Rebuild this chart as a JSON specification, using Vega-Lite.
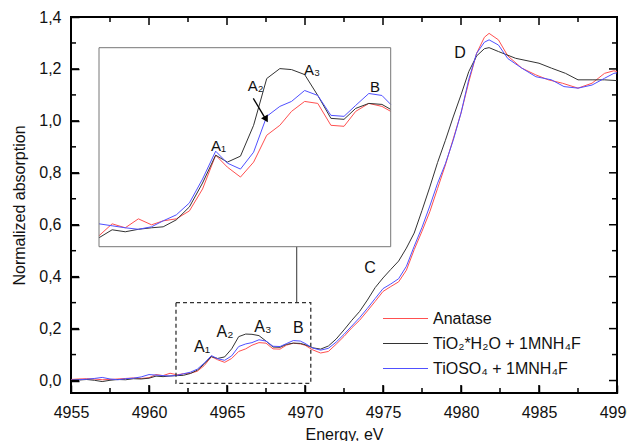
{
  "$schema": "https://vega.github.io/schema/vega-lite/v6.json",
  "width": 546,
  "height": 376,
  "autosize": {"type": "none"},
  "padding": {"left": 71, "top": 17, "right": 10, "bottom": 48},
  "background": "white",
  "config": {
    "font": "Liberation Sans",
    "view": {"stroke": "#000", "strokeWidth": 2},
    "axis": {"domain": false, "grid": false, "ticks": true, "tickColor": "#000", "tickOpacity": 1, "tickWidth": 1.5, "labelFont": "Liberation Sans", "labelFontSize": 16, "labelColor": "#111", "titleFont": "Liberation Sans", "titleFontSize": 16, "titleFontWeight": "normal", "titleColor": "#111"},
    "text": {"font": "Liberation Sans"}
  },
  "datasets": {
    "spectra": [
      {"E": 4955, "mu": 0.004, "sample": "Anatase"},
      {"E": 4955.5, "mu": 0.006, "sample": "Anatase"},
      {"E": 4956, "mu": 0.007, "sample": "Anatase"},
      {"E": 4956.5, "mu": 0.006, "sample": "Anatase"},
      {"E": 4957, "mu": 0.003, "sample": "Anatase"},
      {"E": 4957.5, "mu": 0.004, "sample": "Anatase"},
      {"E": 4958, "mu": 0.006, "sample": "Anatase"},
      {"E": 4958.5, "mu": 0.008, "sample": "Anatase"},
      {"E": 4959, "mu": 0.010, "sample": "Anatase"},
      {"E": 4959.5, "mu": 0.008, "sample": "Anatase"},
      {"E": 4960.0, "mu": 0.011, "sample": "Anatase"},
      {"E": 4960.45, "mu": 0.023, "sample": "Anatase"},
      {"E": 4960.9, "mu": 0.019, "sample": "Anatase"},
      {"E": 4961.35, "mu": 0.028, "sample": "Anatase"},
      {"E": 4961.8, "mu": 0.022, "sample": "Anatase"},
      {"E": 4962.2, "mu": 0.026, "sample": "Anatase"},
      {"E": 4962.65, "mu": 0.028, "sample": "Anatase"},
      {"E": 4963.1, "mu": 0.036, "sample": "Anatase"},
      {"E": 4963.55, "mu": 0.058, "sample": "Anatase"},
      {"E": 4964.0, "mu": 0.092, "sample": "Anatase"},
      {"E": 4964.4, "mu": 0.080, "sample": "Anatase"},
      {"E": 4964.85, "mu": 0.070, "sample": "Anatase"},
      {"E": 4965.3, "mu": 0.085, "sample": "Anatase"},
      {"E": 4965.75, "mu": 0.112, "sample": "Anatase"},
      {"E": 4966.2, "mu": 0.122, "sample": "Anatase"},
      {"E": 4966.6, "mu": 0.136, "sample": "Anatase"},
      {"E": 4967.05, "mu": 0.146, "sample": "Anatase"},
      {"E": 4967.5, "mu": 0.144, "sample": "Anatase"},
      {"E": 4967.95, "mu": 0.122, "sample": "Anatase"},
      {"E": 4968.4, "mu": 0.121, "sample": "Anatase"},
      {"E": 4968.8, "mu": 0.136, "sample": "Anatase"},
      {"E": 4969.25, "mu": 0.144, "sample": "Anatase"},
      {"E": 4969.7, "mu": 0.141, "sample": "Anatase"},
      {"E": 4970.0, "mu": 0.136, "sample": "Anatase"},
      {"E": 4970.5, "mu": 0.118, "sample": "Anatase"},
      {"E": 4971.0, "mu": 0.106, "sample": "Anatase"},
      {"E": 4971.5, "mu": 0.112, "sample": "Anatase"},
      {"E": 4972, "mu": 0.140, "sample": "Anatase"},
      {"E": 4972.5, "mu": 0.170, "sample": "Anatase"},
      {"E": 4973, "mu": 0.203, "sample": "Anatase"},
      {"E": 4973.5, "mu": 0.232, "sample": "Anatase"},
      {"E": 4974, "mu": 0.268, "sample": "Anatase"},
      {"E": 4974.5, "mu": 0.305, "sample": "Anatase"},
      {"E": 4975, "mu": 0.343, "sample": "Anatase"},
      {"E": 4975.5, "mu": 0.362, "sample": "Anatase"},
      {"E": 4976, "mu": 0.380, "sample": "Anatase"},
      {"E": 4976.5, "mu": 0.425, "sample": "Anatase"},
      {"E": 4977, "mu": 0.504, "sample": "Anatase"},
      {"E": 4977.5, "mu": 0.575, "sample": "Anatase"},
      {"E": 4978, "mu": 0.650, "sample": "Anatase"},
      {"E": 4978.5, "mu": 0.740, "sample": "Anatase"},
      {"E": 4979, "mu": 0.830, "sample": "Anatase"},
      {"E": 4979.5, "mu": 0.930, "sample": "Anatase"},
      {"E": 4980, "mu": 1.030, "sample": "Anatase"},
      {"E": 4980.5, "mu": 1.150, "sample": "Anatase"},
      {"E": 4981, "mu": 1.260, "sample": "Anatase"},
      {"E": 4981.5, "mu": 1.322, "sample": "Anatase"},
      {"E": 4981.8, "mu": 1.337, "sample": "Anatase"},
      {"E": 4982.4, "mu": 1.312, "sample": "Anatase"},
      {"E": 4983, "mu": 1.250, "sample": "Anatase"},
      {"E": 4983.9, "mu": 1.203, "sample": "Anatase"},
      {"E": 4984.8, "mu": 1.177, "sample": "Anatase"},
      {"E": 4985.6, "mu": 1.158, "sample": "Anatase"},
      {"E": 4986.5, "mu": 1.145, "sample": "Anatase"},
      {"E": 4987.5, "mu": 1.126, "sample": "Anatase"},
      {"E": 4988.4, "mu": 1.145, "sample": "Anatase"},
      {"E": 4989.2, "mu": 1.183, "sample": "Anatase"},
      {"E": 4989.8, "mu": 1.193, "sample": "Anatase"},
      {"E": 4990, "mu": 1.190, "sample": "Anatase"},

      {"E": 4955, "mu": 0.000, "sample": "TiO₂*H₂O + 1MNH₄F"},
      {"E": 4955.5, "mu": 0.002, "sample": "TiO₂*H₂O + 1MNH₄F"},
      {"E": 4956, "mu": 0.004, "sample": "TiO₂*H₂O + 1MNH₄F"},
      {"E": 4956.5, "mu": 0.001, "sample": "TiO₂*H₂O + 1MNH₄F"},
      {"E": 4957, "mu": -0.004, "sample": "TiO₂*H₂O + 1MNH₄F"},
      {"E": 4957.5, "mu": 0.001, "sample": "TiO₂*H₂O + 1MNH₄F"},
      {"E": 4958, "mu": 0.004, "sample": "TiO₂*H₂O + 1MNH₄F"},
      {"E": 4958.5, "mu": 0.003, "sample": "TiO₂*H₂O + 1MNH₄F"},
      {"E": 4959, "mu": 0.007, "sample": "TiO₂*H₂O + 1MNH₄F"},
      {"E": 4959.5, "mu": 0.006, "sample": "TiO₂*H₂O + 1MNH₄F"},
      {"E": 4960.0, "mu": 0.009, "sample": "TiO₂*H₂O + 1MNH₄F"},
      {"E": 4960.45, "mu": 0.017, "sample": "TiO₂*H₂O + 1MNH₄F"},
      {"E": 4960.9, "mu": 0.015, "sample": "TiO₂*H₂O + 1MNH₄F"},
      {"E": 4961.35, "mu": 0.0175, "sample": "TiO₂*H₂O + 1MNH₄F"},
      {"E": 4961.8, "mu": 0.019, "sample": "TiO₂*H₂O + 1MNH₄F"},
      {"E": 4962.2, "mu": 0.020, "sample": "TiO₂*H₂O + 1MNH₄F"},
      {"E": 4962.65, "mu": 0.027, "sample": "TiO₂*H₂O + 1MNH₄F"},
      {"E": 4963.1, "mu": 0.040, "sample": "TiO₂*H₂O + 1MNH₄F"},
      {"E": 4963.55, "mu": 0.064, "sample": "TiO₂*H₂O + 1MNH₄F"},
      {"E": 4964.0, "mu": 0.092, "sample": "TiO₂*H₂O + 1MNH₄F"},
      {"E": 4964.4, "mu": 0.085, "sample": "TiO₂*H₂O + 1MNH₄F"},
      {"E": 4964.85, "mu": 0.091, "sample": "TiO₂*H₂O + 1MNH₄F"},
      {"E": 4965.3, "mu": 0.122, "sample": "TiO₂*H₂O + 1MNH₄F"},
      {"E": 4965.75, "mu": 0.169, "sample": "TiO₂*H₂O + 1MNH₄F"},
      {"E": 4966.2, "mu": 0.179, "sample": "TiO₂*H₂O + 1MNH₄F"},
      {"E": 4966.6, "mu": 0.178, "sample": "TiO₂*H₂O + 1MNH₄F"},
      {"E": 4967.05, "mu": 0.173, "sample": "TiO₂*H₂O + 1MNH₄F"},
      {"E": 4967.5, "mu": 0.152, "sample": "TiO₂*H₂O + 1MNH₄F"},
      {"E": 4967.95, "mu": 0.129, "sample": "TiO₂*H₂O + 1MNH₄F"},
      {"E": 4968.4, "mu": 0.128, "sample": "TiO₂*H₂O + 1MNH₄F"},
      {"E": 4968.8, "mu": 0.139, "sample": "TiO₂*H₂O + 1MNH₄F"},
      {"E": 4969.25, "mu": 0.144, "sample": "TiO₂*H₂O + 1MNH₄F"},
      {"E": 4969.7, "mu": 0.143, "sample": "TiO₂*H₂O + 1MNH₄F"},
      {"E": 4970.0, "mu": 0.138, "sample": "TiO₂*H₂O + 1MNH₄F"},
      {"E": 4970.5, "mu": 0.126, "sample": "TiO₂*H₂O + 1MNH₄F"},
      {"E": 4971.0, "mu": 0.121, "sample": "TiO₂*H₂O + 1MNH₄F"},
      {"E": 4971.5, "mu": 0.133, "sample": "TiO₂*H₂O + 1MNH₄F"},
      {"E": 4972, "mu": 0.160, "sample": "TiO₂*H₂O + 1MNH₄F"},
      {"E": 4972.5, "mu": 0.195, "sample": "TiO₂*H₂O + 1MNH₄F"},
      {"E": 4973, "mu": 0.232, "sample": "TiO₂*H₂O + 1MNH₄F"},
      {"E": 4973.5, "mu": 0.266, "sample": "TiO₂*H₂O + 1MNH₄F"},
      {"E": 4974, "mu": 0.310, "sample": "TiO₂*H₂O + 1MNH₄F"},
      {"E": 4974.5, "mu": 0.358, "sample": "TiO₂*H₂O + 1MNH₄F"},
      {"E": 4975, "mu": 0.395, "sample": "TiO₂*H₂O + 1MNH₄F"},
      {"E": 4975.5, "mu": 0.428, "sample": "TiO₂*H₂O + 1MNH₄F"},
      {"E": 4976, "mu": 0.460, "sample": "TiO₂*H₂O + 1MNH₄F"},
      {"E": 4976.5, "mu": 0.510, "sample": "TiO₂*H₂O + 1MNH₄F"},
      {"E": 4977, "mu": 0.568, "sample": "TiO₂*H₂O + 1MNH₄F"},
      {"E": 4977.5, "mu": 0.655, "sample": "TiO₂*H₂O + 1MNH₄F"},
      {"E": 4978, "mu": 0.745, "sample": "TiO₂*H₂O + 1MNH₄F"},
      {"E": 4978.5, "mu": 0.840, "sample": "TiO₂*H₂O + 1MNH₄F"},
      {"E": 4979, "mu": 0.925, "sample": "TiO₂*H₂O + 1MNH₄F"},
      {"E": 4979.5, "mu": 1.015, "sample": "TiO₂*H₂O + 1MNH₄F"},
      {"E": 4980, "mu": 1.100, "sample": "TiO₂*H₂O + 1MNH₄F"},
      {"E": 4980.5, "mu": 1.190, "sample": "TiO₂*H₂O + 1MNH₄F"},
      {"E": 4981, "mu": 1.250, "sample": "TiO₂*H₂O + 1MNH₄F"},
      {"E": 4981.5, "mu": 1.278, "sample": "TiO₂*H₂O + 1MNH₄F"},
      {"E": 4981.8, "mu": 1.282, "sample": "TiO₂*H₂O + 1MNH₄F"},
      {"E": 4982.4, "mu": 1.267, "sample": "TiO₂*H₂O + 1MNH₄F"},
      {"E": 4983.5, "mu": 1.241, "sample": "TiO₂*H₂O + 1MNH₄F"},
      {"E": 4985, "mu": 1.222, "sample": "TiO₂*H₂O + 1MNH₄F"},
      {"E": 4985.8, "mu": 1.203, "sample": "TiO₂*H₂O + 1MNH₄F"},
      {"E": 4986.7, "mu": 1.183, "sample": "TiO₂*H₂O + 1MNH₄F"},
      {"E": 4987.5, "mu": 1.158, "sample": "TiO₂*H₂O + 1MNH₄F"},
      {"E": 4988.4, "mu": 1.158, "sample": "TiO₂*H₂O + 1MNH₄F"},
      {"E": 4989.2, "mu": 1.158, "sample": "TiO₂*H₂O + 1MNH₄F"},
      {"E": 4990, "mu": 1.155, "sample": "TiO₂*H₂O + 1MNH₄F"},

      {"E": 4955, "mu": 0.002, "sample": "TiOSO₄ + 1MNH₄F"},
      {"E": 4955.5, "mu": 0.003, "sample": "TiOSO₄ + 1MNH₄F"},
      {"E": 4956, "mu": 0.005, "sample": "TiOSO₄ + 1MNH₄F"},
      {"E": 4956.5, "mu": 0.008, "sample": "TiOSO₄ + 1MNH₄F"},
      {"E": 4957, "mu": 0.012, "sample": "TiOSO₄ + 1MNH₄F"},
      {"E": 4957.5, "mu": 0.006, "sample": "TiOSO₄ + 1MNH₄F"},
      {"E": 4958, "mu": 0.003, "sample": "TiOSO₄ + 1MNH₄F"},
      {"E": 4958.5, "mu": 0.007, "sample": "TiOSO₄ + 1MNH₄F"},
      {"E": 4959, "mu": 0.009, "sample": "TiOSO₄ + 1MNH₄F"},
      {"E": 4959.5, "mu": 0.014, "sample": "TiOSO₄ + 1MNH₄F"},
      {"E": 4960.0, "mu": 0.023, "sample": "TiOSO₄ + 1MNH₄F"},
      {"E": 4960.45, "mu": 0.021, "sample": "TiOSO₄ + 1MNH₄F"},
      {"E": 4960.9, "mu": 0.019, "sample": "TiOSO₄ + 1MNH₄F"},
      {"E": 4961.35, "mu": 0.0175, "sample": "TiOSO₄ + 1MNH₄F"},
      {"E": 4961.8, "mu": 0.020, "sample": "TiOSO₄ + 1MNH₄F"},
      {"E": 4962.2, "mu": 0.026, "sample": "TiOSO₄ + 1MNH₄F"},
      {"E": 4962.65, "mu": 0.032, "sample": "TiOSO₄ + 1MNH₄F"},
      {"E": 4963.1, "mu": 0.044, "sample": "TiOSO₄ + 1MNH₄F"},
      {"E": 4963.55, "mu": 0.068, "sample": "TiOSO₄ + 1MNH₄F"},
      {"E": 4964.0, "mu": 0.096, "sample": "TiOSO₄ + 1MNH₄F"},
      {"E": 4964.4, "mu": 0.084, "sample": "TiOSO₄ + 1MNH₄F"},
      {"E": 4964.85, "mu": 0.078, "sample": "TiOSO₄ + 1MNH₄F"},
      {"E": 4965.3, "mu": 0.095, "sample": "TiOSO₄ + 1MNH₄F"},
      {"E": 4965.75, "mu": 0.131, "sample": "TiOSO₄ + 1MNH₄F"},
      {"E": 4966.2, "mu": 0.141, "sample": "TiOSO₄ + 1MNH₄F"},
      {"E": 4966.6, "mu": 0.146, "sample": "TiOSO₄ + 1MNH₄F"},
      {"E": 4967.05, "mu": 0.157, "sample": "TiOSO₄ + 1MNH₄F"},
      {"E": 4967.5, "mu": 0.152, "sample": "TiOSO₄ + 1MNH₄F"},
      {"E": 4967.95, "mu": 0.132, "sample": "TiOSO₄ + 1MNH₄F"},
      {"E": 4968.4, "mu": 0.131, "sample": "TiOSO₄ + 1MNH₄F"},
      {"E": 4968.8, "mu": 0.142, "sample": "TiOSO₄ + 1MNH₄F"},
      {"E": 4969.25, "mu": 0.154, "sample": "TiOSO₄ + 1MNH₄F"},
      {"E": 4969.7, "mu": 0.152, "sample": "TiOSO₄ + 1MNH₄F"},
      {"E": 4970.0, "mu": 0.143, "sample": "TiOSO₄ + 1MNH₄F"},
      {"E": 4970.5, "mu": 0.125, "sample": "TiOSO₄ + 1MNH₄F"},
      {"E": 4971.0, "mu": 0.117, "sample": "TiOSO₄ + 1MNH₄F"},
      {"E": 4971.5, "mu": 0.124, "sample": "TiOSO₄ + 1MNH₄F"},
      {"E": 4972, "mu": 0.148, "sample": "TiOSO₄ + 1MNH₄F"},
      {"E": 4972.5, "mu": 0.178, "sample": "TiOSO₄ + 1MNH₄F"},
      {"E": 4973, "mu": 0.210, "sample": "TiOSO₄ + 1MNH₄F"},
      {"E": 4973.5, "mu": 0.242, "sample": "TiOSO₄ + 1MNH₄F"},
      {"E": 4974, "mu": 0.278, "sample": "TiOSO₄ + 1MNH₄F"},
      {"E": 4974.5, "mu": 0.316, "sample": "TiOSO₄ + 1MNH₄F"},
      {"E": 4975, "mu": 0.354, "sample": "TiOSO₄ + 1MNH₄F"},
      {"E": 4975.5, "mu": 0.372, "sample": "TiOSO₄ + 1MNH₄F"},
      {"E": 4976, "mu": 0.392, "sample": "TiOSO₄ + 1MNH₄F"},
      {"E": 4976.5, "mu": 0.440, "sample": "TiOSO₄ + 1MNH₄F"},
      {"E": 4977, "mu": 0.517, "sample": "TiOSO₄ + 1MNH₄F"},
      {"E": 4977.5, "mu": 0.590, "sample": "TiOSO₄ + 1MNH₄F"},
      {"E": 4978, "mu": 0.672, "sample": "TiOSO₄ + 1MNH₄F"},
      {"E": 4978.5, "mu": 0.760, "sample": "TiOSO₄ + 1MNH₄F"},
      {"E": 4979, "mu": 0.835, "sample": "TiOSO₄ + 1MNH₄F"},
      {"E": 4979.5, "mu": 0.925, "sample": "TiOSO₄ + 1MNH₄F"},
      {"E": 4980, "mu": 1.030, "sample": "TiOSO₄ + 1MNH₄F"},
      {"E": 4980.5, "mu": 1.160, "sample": "TiOSO₄ + 1MNH₄F"},
      {"E": 4981, "mu": 1.260, "sample": "TiOSO₄ + 1MNH₄F"},
      {"E": 4981.5, "mu": 1.303, "sample": "TiOSO₄ + 1MNH₄F"},
      {"E": 4981.8, "mu": 1.312, "sample": "TiOSO₄ + 1MNH₄F"},
      {"E": 4982.4, "mu": 1.292, "sample": "TiOSO₄ + 1MNH₄F"},
      {"E": 4983, "mu": 1.240, "sample": "TiOSO₄ + 1MNH₄F"},
      {"E": 4983.9, "mu": 1.203, "sample": "TiOSO₄ + 1MNH₄F"},
      {"E": 4984.8, "mu": 1.170, "sample": "TiOSO₄ + 1MNH₄F"},
      {"E": 4985.8, "mu": 1.158, "sample": "TiOSO₄ + 1MNH₄F"},
      {"E": 4986.6, "mu": 1.132, "sample": "TiOSO₄ + 1MNH₄F"},
      {"E": 4987.5, "mu": 1.126, "sample": "TiOSO₄ + 1MNH₄F"},
      {"E": 4988.4, "mu": 1.138, "sample": "TiOSO₄ + 1MNH₄F"},
      {"E": 4989.2, "mu": 1.164, "sample": "TiOSO₄ + 1MNH₄F"},
      {"E": 4989.8, "mu": 1.183, "sample": "TiOSO₄ + 1MNH₄F"},
      {"E": 4990, "mu": 1.185, "sample": "TiOSO₄ + 1MNH₄F"}
    ],
    "mainLabels": [
      {"label": "A₁", "x": 4963.4, "y": 0.13},
      {"label": "A₂", "x": 4964.87, "y": 0.188},
      {"label": "A₃", "x": 4967.3, "y": 0.207},
      {"label": "B", "x": 4969.57, "y": 0.203},
      {"label": "C", "x": 4974.17, "y": 0.432},
      {"label": "D", "x": 4979.94, "y": 1.26}
    ],
    "insetLabels": [
      {"label": "A₁", "x": 4964.1, "y": 0.1015},
      {"label": "A₂", "x": 4965.37, "y": 0.1615},
      {"label": "A₃", "x": 4967.3, "y": 0.1776},
      {"label": "B", "x": 4969.46, "y": 0.161}
    ],
    "xTicks": [
      {"E": 4955, "kind": "major"}, {"E": 4957.5, "kind": "minor"},
      {"E": 4960, "kind": "major"}, {"E": 4962.5, "kind": "minor"},
      {"E": 4965, "kind": "major"}, {"E": 4967.5, "kind": "minor"},
      {"E": 4970, "kind": "major"}, {"E": 4972.5, "kind": "minor"},
      {"E": 4975, "kind": "major"}, {"E": 4977.5, "kind": "minor"},
      {"E": 4980, "kind": "major"}, {"E": 4982.5, "kind": "minor"},
      {"E": 4985, "kind": "major"}, {"E": 4987.5, "kind": "minor"},
      {"E": 4990, "kind": "major"}
    ],
    "yTicks": [
      {"mu": 0.0, "kind": "major"}, {"mu": 0.1, "kind": "minor"},
      {"mu": 0.2, "kind": "major"}, {"mu": 0.3, "kind": "minor"},
      {"mu": 0.4, "kind": "major"}, {"mu": 0.5, "kind": "minor"},
      {"mu": 0.6, "kind": "major"}, {"mu": 0.7, "kind": "minor"},
      {"mu": 0.8, "kind": "major"}, {"mu": 0.9, "kind": "minor"},
      {"mu": 1.0, "kind": "major"}, {"mu": 1.1, "kind": "minor"},
      {"mu": 1.2, "kind": "major"}, {"mu": 1.3, "kind": "minor"},
      {"mu": 1.4, "kind": "major"}
    ]
  },
  "layer": [
    {
      "layer": [
        {
          "data": {"name": "spectra"},
          "mark": {"type": "line", "strokeWidth": 1},
          "encoding": {
            "x": {
              "field": "E", "type": "quantitative",
              "scale": {"domain": [4955, 4990], "nice": false, "zero": false},
              "axis": {
                "orient": "bottom",
                "values": [4955, 4960, 4965, 4970, 4975, 4980, 4985, 4990],
                "format": "d",
                "ticks": true, "tickColor": "#000", "tickOpacity": 1, "tickWidth": 1.5, "grid": false, "domain": false,
                "tickSize": 8,
                "offset": -8,
                "labelPadding": 11,
                "labelFlush": false,
                "title": "Energy, eV",
                "titlePadding": 6
              }
            },
            "y": {
              "field": "mu", "type": "quantitative",
              "scale": {"domain": [-0.048, 1.4], "nice": false, "zero": false},
              "axis": {
                "orient": "left",
                "values": [0, 0.2, 0.4, 0.6, 0.8, 1.0, 1.2, 1.4],
                "labelExpr": "replace(format(datum.value, '.1f'), '.', ',')",
                "ticks": true, "tickColor": "#000", "tickOpacity": 1, "tickWidth": 1.5, "grid": false, "domain": false,
                "tickSize": 8,
                "offset": -8,
                "labelPadding": 10,
                "labelFlush": false,
                "title": "Normalized absorption",
                "titlePadding": 11
              }
            },
            "color": {
              "field": "sample", "type": "nominal",
              "scale": {
                "domain": ["Anatase", "TiO₂*H₂O + 1MNH₄F", "TiOSO₄ + 1MNH₄F"],
                "range": ["#ff5050", "#333333", "#5050ff"]
              },
              "legend": {
                "orient": "none",
                "legendX": 319,
                "legendY": 286,
                "title": null,
                "symbolType": "M-1.5,0H1.5",
                "symbolSize": 900,
                "symbolStrokeWidth": 1,
                "labelFontSize": 16,
                "labelFont": "Liberation Sans",
                "labelColor": "#111",
                "labelOffset": 12,
                "rowPadding": 1,
                "labelLimit": 300,
                "encode": {
                  "symbols": {
                    "update": {
                      "stroke": {"scale": "color", "field": "value"},
                      "fill": {"value": "transparent"},
                      "strokeWidth": {"value": 1},
                      "opacity": {"value": 1}
                    }
                  }
                }
              }
            },
            "order": {"field": "sample"}
          }
        },
        {
          "data": {"name": "mainLabels"},
          "mark": {"type": "text", "fontSize": 16, "color": "#111"},
          "encoding": {
            "x": {"field": "x", "type": "quantitative", "axis": null},
            "y": {"field": "y", "type": "quantitative", "axis": null},
            "text": {"field": "label"}
          }
        },
        {
          "data": {"name": "xTicks"},
          "transform": [{"filter": "datum.kind === 'major'"}],
          "mark": {"type": "tick", "orient": "vertical", "size": 8, "thickness": 1.5, "color": "#000", "opacity": 1, "yOffset": -4},
          "encoding": {
            "x": {"field": "E", "type": "quantitative", "axis": null},
            "y": {"datum": -0.048, "type": "quantitative", "axis": null}
          }
        },
        {
          "data": {"name": "xTicks"},
          "transform": [{"filter": "datum.kind === 'major'"}],
          "mark": {"type": "tick", "orient": "vertical", "size": 8, "thickness": 1.5, "color": "#000", "opacity": 1, "yOffset": 4},
          "encoding": {
            "x": {"field": "E", "type": "quantitative", "axis": null},
            "y": {"datum": 1.4, "type": "quantitative", "axis": null}
          }
        },
        {
          "data": {"name": "xTicks"},
          "transform": [{"filter": "datum.kind === 'minor'"}],
          "mark": {"type": "tick", "orient": "vertical", "size": 5, "thickness": 1.5, "color": "#000", "opacity": 1, "yOffset": -2.5},
          "encoding": {
            "x": {"field": "E", "type": "quantitative", "axis": null},
            "y": {"datum": -0.048, "type": "quantitative", "axis": null}
          }
        },
        {
          "data": {"name": "xTicks"},
          "transform": [{"filter": "datum.kind === 'minor'"}],
          "mark": {"type": "tick", "orient": "vertical", "size": 5, "thickness": 1.5, "color": "#000", "opacity": 1, "yOffset": 2.5},
          "encoding": {
            "x": {"field": "E", "type": "quantitative", "axis": null},
            "y": {"datum": 1.4, "type": "quantitative", "axis": null}
          }
        },
        {
          "data": {"name": "yTicks"},
          "transform": [{"filter": "datum.kind === 'major'"}],
          "mark": {"type": "tick", "orient": "horizontal", "size": 8, "thickness": 1.5, "color": "#000", "opacity": 1, "xOffset": 4},
          "encoding": {
            "x": {"datum": 4955, "type": "quantitative", "axis": null},
            "y": {"field": "mu", "type": "quantitative", "axis": null}
          }
        },
        {
          "data": {"name": "yTicks"},
          "transform": [{"filter": "datum.kind === 'major'"}],
          "mark": {"type": "tick", "orient": "horizontal", "size": 8, "thickness": 1.5, "color": "#000", "opacity": 1, "xOffset": -4},
          "encoding": {
            "x": {"datum": 4990, "type": "quantitative", "axis": null},
            "y": {"field": "mu", "type": "quantitative", "axis": null}
          }
        },
        {
          "data": {"name": "yTicks"},
          "transform": [{"filter": "datum.kind === 'minor'"}],
          "mark": {"type": "tick", "orient": "horizontal", "size": 5, "thickness": 1.5, "color": "#000", "opacity": 1, "xOffset": 2.5},
          "encoding": {
            "x": {"datum": 4955, "type": "quantitative", "axis": null},
            "y": {"field": "mu", "type": "quantitative", "axis": null}
          }
        },
        {
          "data": {"name": "yTicks"},
          "transform": [{"filter": "datum.kind === 'minor'"}],
          "mark": {"type": "tick", "orient": "horizontal", "size": 5, "thickness": 1.5, "color": "#000", "opacity": 1, "xOffset": -2.5},
          "encoding": {
            "x": {"datum": 4990, "type": "quantitative", "axis": null},
            "y": {"field": "mu", "type": "quantitative", "axis": null}
          }
        },
        {
          "data": {"values": [{}]},
          "mark": {"type": "rect", "filled": false, "stroke": "#333", "strokeWidth": 1.3, "strokeDash": [4, 3]},
          "encoding": {
            "x": {"datum": 4961.73, "type": "quantitative", "axis": null},
            "x2": {"datum": 4970.37},
            "y": {"datum": -0.011, "type": "quantitative", "axis": null},
            "y2": {"datum": 0.30}
          }
        },
        {
          "data": {"values": [{}]},
          "mark": {"type": "rule", "stroke": "#333", "strokeWidth": 1},
          "encoding": {
            "x": {"datum": 4969.47, "type": "quantitative", "axis": null},
            "y": {"datum": 0.30, "type": "quantitative", "axis": null},
            "y2": {"datum": 0.515}
          }
        }
      ],
      "resolve": {"axis": {"x": "independent", "y": "independent"}}
    },
    {
      "layer": [
        {
          "data": {"name": "spectra"},
          "transform": [{"filter": "datum.E >= 4960 && datum.E <= 4970"}],
          "mark": {"type": "line", "strokeWidth": 1},
          "encoding": {
            "x": {
              "field": "E", "type": "quantitative",
              "scale": {"domain": [4960, 4970], "range": [28, 319.7], "nice": false, "zero": false},
              "axis": null
            },
            "y": {
              "field": "mu", "type": "quantitative",
              "scale": {"domain": [0, 0.2], "range": [229.7, 30.7], "nice": false, "zero": false},
              "axis": null
            },
            "color": {"field": "sample", "type": "nominal", "legend": null},
            "order": {"field": "sample"}
          }
        },
        {
          "data": {"values": [{}]},
          "mark": {"type": "rect", "filled": false, "stroke": "#777", "strokeWidth": 1},
          "encoding": {
            "x": {"datum": 4960, "type": "quantitative"},
            "x2": {"datum": 4970},
            "y": {"datum": 0, "type": "quantitative"},
            "y2": {"datum": 0.2}
          }
        },
        {
          "data": {"name": "insetLabels"},
          "mark": {"type": "text", "fontSize": 15, "color": "#111"},
          "encoding": {
            "x": {"field": "x", "type": "quantitative"},
            "y": {"field": "y", "type": "quantitative"},
            "text": {"field": "label"}
          }
        },
        {
          "data": {"values": [{}]},
          "mark": {"type": "rule", "stroke": "#000", "strokeWidth": 1.3},
          "encoding": {
            "x": {"datum": 4965.29, "type": "quantitative"},
            "y": {"datum": 0.149, "type": "quantitative"},
            "x2": {"datum": 4965.72},
            "y2": {"datum": 0.128}
          }
        },
        {
          "data": {"values": [{}]},
          "mark": {"type": "point", "shape": "triangle", "filled": true, "color": "#000", "size": 60, "angle": 150, "opacity": 1},
          "encoding": {
            "x": {"datum": 4965.71, "type": "quantitative"},
            "y": {"datum": 0.129, "type": "quantitative"}
          }
        }
      ]
    }
  ],
  "resolve": {"scale": {"x": "independent", "y": "independent"}}
}
